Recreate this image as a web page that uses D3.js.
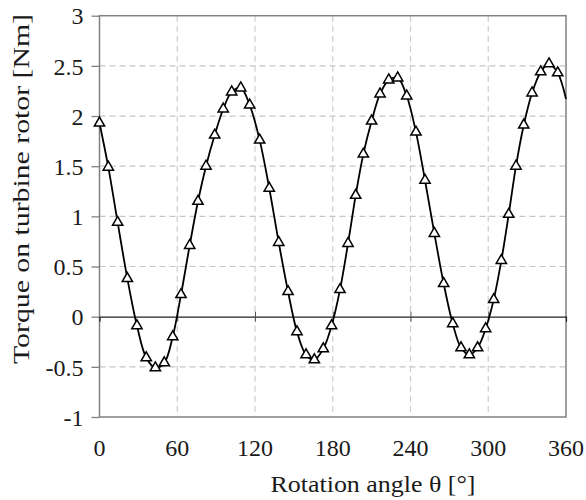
<!DOCTYPE html>
<html><head><meta charset="utf-8">
<script src="https://cdn.jsdelivr.net/npm/d3@7"></script>
<style>body{margin:0;background:#fff}svg{display:block}</style>
</head><body><svg id="c" width="586" height="500"></svg>
<script>
// Rotation angle (deg) of each marker
const angles = [0, 6.8, 14.0, 21.5, 28.9, 36.1, 43.1, 50.0, 56.5, 62.9, 69.6, 76.0, 82.2, 88.9,
  95.5, 102.0, 109.0, 115.9, 123.6, 131.0, 138.3, 145.5, 152.4, 159.4, 165.8, 172.7,
  179.1, 185.6, 191.8, 197.7, 203.6, 210.0, 216.5, 223.2, 230.1, 237.1, 244.2, 251.2, 258.4, 265.6,
  272.6, 279.0, 285.4, 291.8, 298.0, 304.2, 310.1, 315.8, 321.4, 327.4, 333.8, 340.5, 346.9, 353.6];
// Torque on turbine rotor (Nm)
const torque = [1.93, 1.49, 0.94, 0.38, -0.09, -0.41, -0.51, -0.46, -0.20, 0.22, 0.71, 1.15, 1.50, 1.81,
  2.07, 2.24, 2.28, 2.11, 1.76, 1.28, 0.74, 0.25, -0.15, -0.38, -0.43, -0.32,
  -0.09, 0.27, 0.73, 1.21, 1.62, 1.95, 2.22, 2.36, 2.38, 2.20, 1.84, 1.36, 0.83, 0.33,
  -0.07, -0.31, -0.38, -0.31, -0.12, 0.17, 0.56, 1.02, 1.50, 1.91, 2.23, 2.44, 2.52, 2.43];
// line continues to the axis end (no marker)
const endAngle = [360];
const endTorque = [2.17];
const xTicks = [0, 60, 120, 180, 240, 300, 360];
const yTicks = [-1, -0.5, 0, 0.5, 1, 1.5, 2, 2.5, 3];
const yTickLabels = ["-1", "-0.5", "0", "0.5", "1", "1.5", "2", "2.5", "3"];
const xTitle = "Rotation angle θ [°]";
const yTitle = "Torque on turbine rotor [Nm]";

const svg = d3.select("#c");
const L = 99.5, R = 566, T = 15.7, B = 417;
const x = d3.scaleLinear().domain([0, 360]).range([L, R]);
const y = d3.scaleLinear().domain([-1, 3]).range([B, T]);
const font = "'Liberation Serif','Times New Roman',serif";
const txt = "#1a1a1a";

// grid
const g = svg.append("g");
g.selectAll("line.hg").data(yTicks.filter(v => v !== 0 && v !== 3 && v !== -1)).join("line")
  .attr("x1", L).attr("x2", R).attr("y1", d => y(d)).attr("y2", d => y(d))
  .attr("stroke", "#c3c6c8").attr("stroke-width", 1.2).attr("stroke-dasharray", "6,4");
g.selectAll("line.vg").data(xTicks.filter(v => v !== 0 && v !== 360)).join("line")
  .attr("y1", T).attr("y2", B).attr("x1", d => x(d)).attr("x2", d => x(d))
  .attr("stroke", "#cacdcf").attr("stroke-width", 1.2).attr("stroke-dasharray", "6,4");

// frame
svg.append("rect").attr("x", L).attr("y", T).attr("width", R - L).attr("height", B - T)
  .attr("fill", "none").attr("stroke", "#808080").attr("stroke-width", 1.5);

// y axis ticks + labels
const yAxis = d3.axisLeft(y).tickValues(yTicks).tickSize(8).tickPadding(8)
  .tickFormat((d, i) => yTickLabels[i]);
const ya = svg.append("g").attr("transform", `translate(${L},0)`).call(yAxis);
ya.select(".domain").remove();
ya.selectAll(".tick line").attr("stroke", "#808080").attr("stroke-width", 1.3);
ya.selectAll("text").attr("font-family", font).attr("font-size", 24).attr("fill", txt)
  .attr("dy", "0.34em");

// zero-line axis with crossing ticks
const xAxis = d3.axisBottom(x).tickValues(xTicks.filter(v => v > 0 && v < 360)).tickSize(5).tickFormat("");
const xa = svg.append("g").attr("transform", `translate(0,${y(0)})`).call(xAxis);
xa.select(".domain").attr("stroke", "#222").attr("stroke-width", 1.2);
xa.selectAll(".tick line").attr("y1", -5).attr("stroke", "#555");

// x tick labels at bottom
svg.append("g").selectAll("text").data(xTicks).join("text")
  .attr("x", d => x(d)).attr("y", 456).attr("text-anchor", "middle")
  .attr("font-family", font).attr("font-size", 24).attr("fill", txt).text(d => d);

// titles
svg.append("text").attr("x", 373).attr("y", 492).attr("text-anchor", "middle")
  .attr("font-family", font).attr("font-size", 24).attr("fill", txt)
  .attr("textLength", 205).attr("lengthAdjust", "spacingAndGlyphs").text(xTitle);
svg.append("text").attr("transform", `translate(29,189) rotate(-90)`).attr("text-anchor", "middle")
  .attr("font-family", font).attr("font-size", 24).attr("fill", txt)
  .attr("textLength", 350).attr("lengthAdjust", "spacingAndGlyphs").text(yTitle);

// line
const pts = angles.map((a, i) => [a, torque[i]]).concat(endAngle.map((a, i) => [a, endTorque[i]]));
svg.append("path").datum(pts)
  .attr("d", d3.line().x(d => x(d[0])).y(d => y(d[1])).curve(d3.curveCatmullRom.alpha(0.5)))
  .attr("fill", "none").attr("stroke", "#000").attr("stroke-width", 1.8);

// markers
const tri = d3.symbol().type(d3.symbolTriangle).size(46);
svg.append("g").selectAll("path").data(angles.map((a, i) => [a, torque[i]])).join("path")
  .attr("transform", d => `translate(${x(d[0])},${y(d[1])})`)
  .attr("d", tri).attr("fill", "#fff").attr("stroke", "#000").attr("stroke-width", 1.5);
</script>
</body></html>
